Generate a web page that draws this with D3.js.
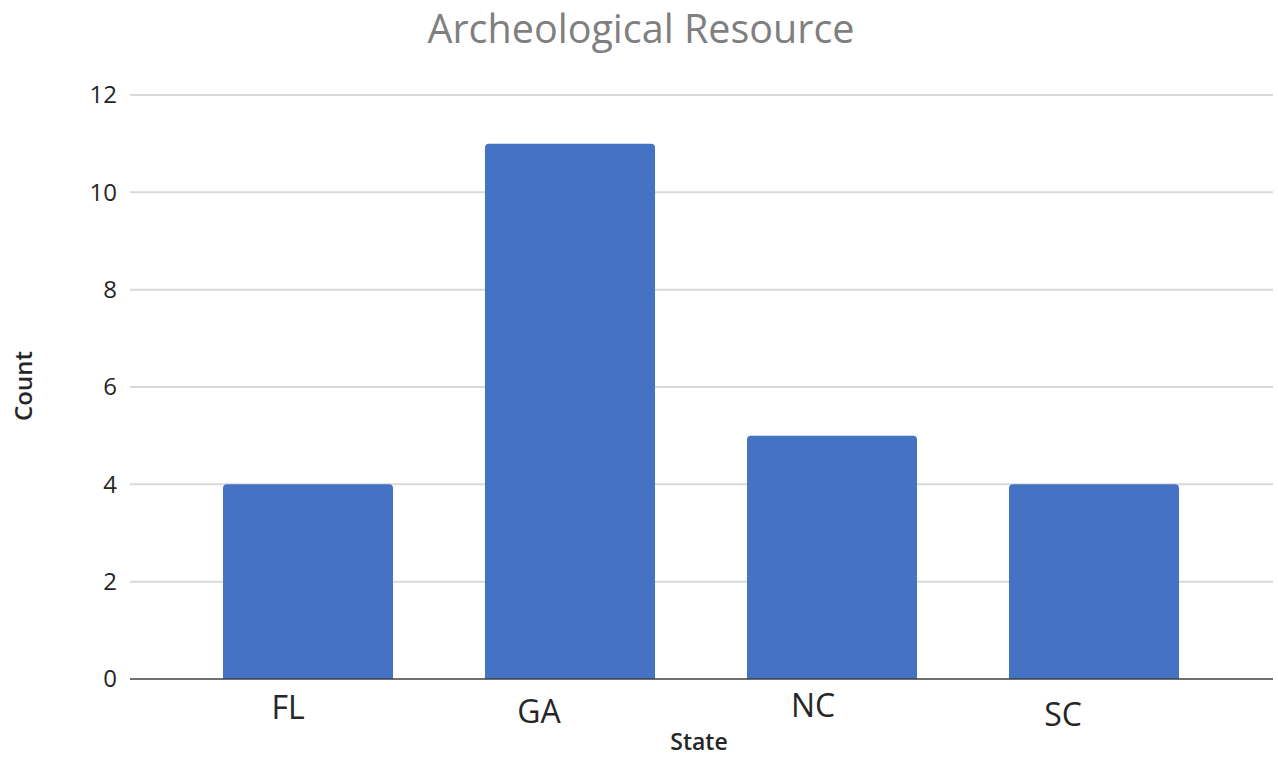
<!DOCTYPE html>
<html>
<head>
<meta charset="utf-8">
<style>
    body { margin: 0; background: #fff; }
    text { font-family: "Open Sans", sans-serif; }
</style>
</head>
<body>
<svg id="chart" width="1278" height="757"></svg>
<script src="https://d3js.org/d3.v7.min.js"></script>
<script>
    // data
    const states = ["FL", "GA", "NC", "SC"];
    const counts = [4, 11, 5, 4];
    const yTicks = [0, 2, 4, 6, 8, 10, 12];
    // the category labels sit a little unevenly in the original
    const labelShiftX = [-20, -31, -19, -31];
    const labelShiftY = [0, 4, -2, 7];

    let svg = d3.select("#chart");

    let y = d3.scaleLinear()
        .domain([0, 12])
        .range([679, 95]);

    let x = d3.scaleBand()
        .domain(states)
        .range([177, 1225])
        .paddingInner(0.351)
        .paddingOuter(0.1755);

    // gridlines
    svg.append("g").selectAll("line").data(yTicks.filter(d => d > 0))
        .enter()
        .append("line")
        .attr("x1", 130).attr("x2", 1273)
        .attr("y1", d => y(d)).attr("y2", d => y(d))
        .attr("stroke", "#d9d9d9")
        .attr("stroke-width", 2);

    // y tick labels
    let yAxis = d3.axisLeft(y).tickValues(yTicks).tickSize(0).tickPadding(13);
    let yg = svg.append("g")
        .attr("transform", "translate(130, 0)")
        .call(yAxis);
    yg.select(".domain").remove();
    yg.selectAll("text")
        .attr("font-family", "Open Sans")
        .attr("font-size", 24)
        .attr("fill", "#262626");

    // bars, rounded a touch at the top
    const r = 4;
    svg.append("g").selectAll("path").data(states)
        .enter()
        .append("path")
        .attr("fill", "#4472c4")
        .attr("d", (s, i) => {
            let x0 = x(s), x1 = x(s) + x.bandwidth();
            let top = y(counts[i]), bot = y(0);
            return `M${x0},${bot}V${top + r}Q${x0},${top} ${x0 + r},${top}` +
                `H${x1 - r}Q${x1},${top} ${x1},${top + r}V${bot}Z`;
        });

    // baseline
    svg.append("line")
        .attr("x1", 130).attr("x2", 1273)
        .attr("y1", y(0)).attr("y2", y(0))
        .attr("stroke", "#404040")
        .attr("stroke-width", 1.5);

    // category labels
    svg.append("g").selectAll("text").data(states)
        .enter()
        .append("text")
        .attr("x", (s, i) => x(s) + x.bandwidth() / 2 + labelShiftX[i])
        .attr("y", (s, i) => 719 + labelShiftY[i])
        .attr("text-anchor", "middle")
        .attr("font-size", 32)
        .attr("fill", "#262626")
        .text(s => s);

    // axis titles
    svg.append("text")
        .attr("x", 699).attr("y", 750)
        .attr("text-anchor", "middle")
        .attr("font-size", 23)
        .attr("font-weight", 600)
        .attr("fill", "#262626")
        .text("State");

    svg.append("text")
        .attr("transform", "translate(32, 386) rotate(-90)")
        .attr("text-anchor", "middle")
        .attr("font-size", 24)
        .attr("font-weight", 600)
        .attr("fill", "#262626")
        .text("Count");

    // title
    svg.append("text")
        .attr("x", 641).attr("y", 43)
        .attr("text-anchor", "middle")
        .attr("font-size", 39.5)
        .attr("fill", "#7f7f7f")
        .text("Archeological Resource");
</script>
</body>
</html>
